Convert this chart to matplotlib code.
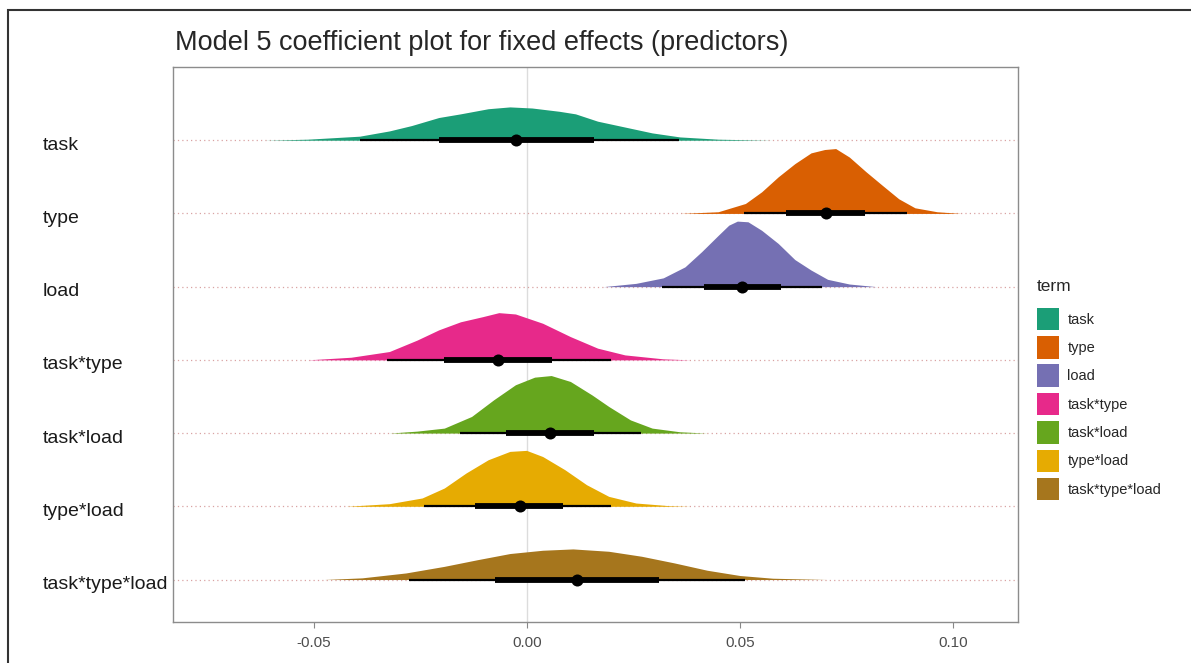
import matplotlib
matplotlib.use("Agg")
import matplotlib.pyplot as plt
from matplotlib.patches import Patch, Rectangle
from matplotlib.transforms import ScaledTranslation

plt.rcParams['font.family'] = ['Liberation Sans', 'DejaVu Sans']

# ---------------- data ----------------
terms = ["task", "type", "load", "task*type", "task*load", "type*load", "task*type*load"]
colors = ["#1B9E77", "#D95F02", "#7570B3", "#E7298A", "#66A61E", "#E6AB02", "#A6761D"]

# posterior density outlines (x value, height in row units)
task_x = [-0.0618, -0.0515, -0.0393, -0.0323, -0.0271, -0.0207, -0.0156, -0.0091, -0.0040, 0.0012, 0.0076, 0.0114, 0.0166, 0.0230, 0.0294, 0.0359, 0.0449, 0.0577]
task_h = [0.0, 0.014, 0.055, 0.127, 0.200, 0.310, 0.360, 0.430, 0.455, 0.440, 0.395, 0.360, 0.260, 0.180, 0.100, 0.045, 0.014, 0.0]

type_x = [0.0359, 0.0449, 0.0513, 0.0551, 0.0590, 0.0629, 0.0667, 0.0699, 0.0725, 0.0757, 0.0796, 0.0834, 0.0873, 0.0911, 0.0963, 0.1020]
type_h = [0.0, 0.023, 0.136, 0.295, 0.500, 0.680, 0.827, 0.873, 0.886, 0.770, 0.570, 0.386, 0.200, 0.077, 0.023, 0.0]

load_x = [0.0179, 0.0256, 0.0320, 0.0371, 0.0410, 0.0449, 0.0474, 0.0494, 0.0519, 0.0551, 0.0590, 0.0629, 0.0667, 0.0706, 0.0757, 0.0821]
load_h = [0.0, 0.045, 0.120, 0.270, 0.477, 0.700, 0.840, 0.895, 0.886, 0.770, 0.590, 0.370, 0.227, 0.100, 0.036, 0.0]

tasktype_x = [-0.0515, -0.0413, -0.0323, -0.0258, -0.0207, -0.0156, -0.0104, -0.0066, -0.0027, 0.0037, 0.0102, 0.0166, 0.0230, 0.0320, 0.0384]
tasktype_h = [0.0, 0.036, 0.114, 0.270, 0.410, 0.520, 0.590, 0.645, 0.627, 0.500, 0.318, 0.160, 0.068, 0.014, 0.0]

taskload_x = [-0.0323, -0.0258, -0.0194, -0.0130, -0.0078, -0.0027, 0.0018, 0.0057, 0.0102, 0.0153, 0.0192, 0.0243, 0.0294, 0.0359, 0.0423]
taskload_h = [0.0, 0.027, 0.068, 0.227, 0.455, 0.660, 0.764, 0.786, 0.705, 0.520, 0.364, 0.180, 0.068, 0.018, 0.0]

typeload_x = [-0.0425, -0.0323, -0.0246, -0.0194, -0.0143, -0.0091, -0.0040, -0.0001, 0.0037, 0.0089, 0.0140, 0.0192, 0.0256, 0.0333, 0.0384]
typeload_h = [0.0, 0.036, 0.114, 0.250, 0.455, 0.636, 0.750, 0.764, 0.680, 0.500, 0.295, 0.136, 0.045, 0.009, 0.0]

tasktypeload_x = [-0.0477, -0.0387, -0.0284, -0.0194, -0.0117, -0.0040, 0.0037, 0.0108, 0.0192, 0.0269, 0.0346, 0.0423, 0.0500, 0.0577, 0.0706]
tasktypeload_h = [0.0, 0.023, 0.090, 0.180, 0.270, 0.355, 0.400, 0.418, 0.386, 0.318, 0.227, 0.127, 0.055, 0.018, 0.0]

# point summaries: median, 66% interval, 95% interval
medians = [-0.0026, 0.0702, 0.0506, -0.0068, 0.0054, -0.0017, 0.0117]
ci66_lo = [-0.0207, 0.0609, 0.0416, -0.0194, -0.0048, -0.0123, -0.0076]
ci66_hi = [0.0157, 0.0793, 0.0596, 0.0060, 0.0157, 0.0085, 0.0311]
ci95_lo = [-0.0393, 0.0510, 0.0316, -0.0329, -0.0158, -0.0242, -0.0278]
ci95_hi = [0.0356, 0.0892, 0.0693, 0.0198, 0.0269, 0.0198, 0.0513]

x_ticks = [-0.05, 0.00, 0.05, 0.10]
x_tick_labels = ["-0.05", "0.00", "0.05", "0.10"]

dens_x = [task_x, type_x, load_x, tasktype_x, taskload_x, typeload_x, tasktypeload_x]
dens_h = [task_h, type_h, load_h, tasktype_h, taskload_h, typeload_h, tasktypeload_h]

# ---------------- figure ----------------
W, H = 1191, 663
fig = plt.figure(figsize=(W / 100, H / 100), dpi=100)
fig.patch.set_facecolor("white")

# outer frame of the screenshot
fig.add_artist(Rectangle((8 / W, -0.05), 1.2, 1 - 10 / H + 0.05, transform=fig.transFigure,
                         fill=False, edgecolor="#333333", linewidth=1.5))

ax = fig.add_axes([173 / W, 1 - 622 / H, (1018 - 173) / W, (622 - 67) / H])
n = len(terms)
ypos = [n - i for i in range(n)]

ax.axvline(0, color="#dcdcdc", linewidth=1.0, zorder=0)
for y in ypos:
    ax.axhline(y, color="#d9a3a3", linestyle=(0, (1, 2.5)), linewidth=0.9, zorder=1)

for i in range(n):
    y = ypos[i]
    xs = dens_x[i]
    tops = [y + h for h in dens_h[i]]
    ax.fill_between(xs, y, tops, color=colors[i], linewidth=0, zorder=2)
    ax.plot([ci95_lo[i], ci95_hi[i]], [y, y], color="black", linewidth=1.6,
            solid_capstyle="butt", zorder=3)
    ax.plot([ci66_lo[i], ci66_hi[i]], [y, y], color="black", linewidth=4.2,
            solid_capstyle="butt", zorder=4)
    ax.scatter([medians[i]], [y], s=75, color="black", zorder=5, linewidths=0)

ax.set_xlim(-0.0831, 0.1153)
ax.set_ylim(0.42, 8.0)
ax.set_xticks(x_ticks)
ax.set_xticklabels(x_tick_labels)
ax.set_yticks(ypos)
ax.set_yticklabels(terms)
ax.tick_params(axis="x", length=4, color="#888888", labelsize=11, labelcolor="#4d4d4d", pad=6)
ax.tick_params(axis="y", length=0, labelsize=14, labelcolor="#1a1a1a", pad=(173 - 43) * 0.72)
shift = ScaledTranslation(0, -3 / 100, fig.dpi_scale_trans)
for lab in ax.get_yticklabels():
    lab.set_horizontalalignment("left")
    lab.set_transform(lab.get_transform() + shift)
for s in ax.spines.values():
    s.set_color("#8c8c8c")
    s.set_linewidth(1.0)

fig.text(175 / W, 1 - 43 / H, "Model 5 coefficient plot for fixed effects (predictors)",
         fontsize=19.5, color="#262626", va="center", ha="left")

handles = [Patch(facecolor=c, edgecolor="none") for c in colors]
leg = fig.legend(handles, terms, title="term", loc="upper left",
                 bbox_to_anchor=(1031 / W, 1 - 273 / H), frameon=False,
                 fontsize=10.5, title_fontsize=12.5, handlelength=1.5, handleheight=2.0,
                 labelspacing=0.4, handletextpad=0.6, borderaxespad=0, alignment="left")
leg.get_title().set_color("#262626")
leg._legend_box.sep = 10
for t in leg.get_texts():
    t.set_color("#262626")

fig.savefig("out.png", dpi=100, facecolor="white")
